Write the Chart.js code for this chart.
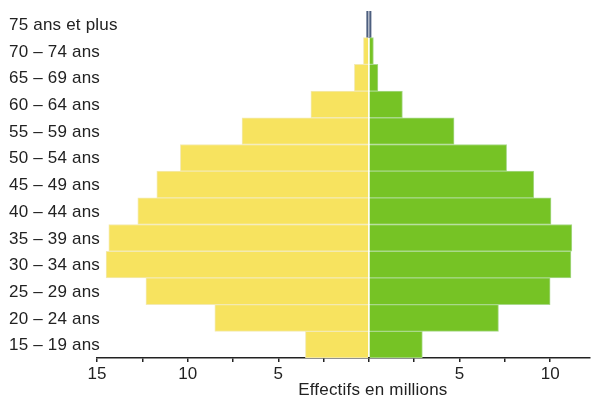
<!DOCTYPE html>
<html>
<head>
<meta charset="utf-8">
<script src="https://cdn.jsdelivr.net/npm/chart.js@4/dist/chart.umd.min.js"></script>
<style>
  html, body { margin: 0; padding: 0; background: #fff; }
  #wrap { width: 591px; height: 400px; }
</style>
</head>
<body>
<div id="wrap"><canvas id="pyramide"></canvas></div>
<script>
const labels = [
  '75 ans et plus', '70 – 74 ans', '65 – 69 ans', '60 – 64 ans', '55 – 59 ans',
  '50 – 54 ans', '45 – 49 ans', '40 – 44 ans', '35 – 39 ans', '30 – 34 ans',
  '25 – 29 ans', '20 – 24 ans', '15 – 19 ans'
];
// effectifs en millions
const gauche = [0.12, 0.3, 0.8, 3.2, 7.0, 10.4, 11.7, 12.75, 14.35, 14.5, 12.3, 8.5, 3.5];
const droite = [0.12, 0.25, 0.5, 1.85, 4.7, 7.6, 9.1, 10.05, 11.2, 11.15, 10.0, 7.15, 2.95];
const xTicks = [15, 10, 5, 0, 5, 10];

const FONT = 'Liberation Sans, Arial, sans-serif';
const jaune = '#f7e35f', jauneBord = '#f3eab2';
const vert = '#76c325', vertBord = '#a9d98a';
const bleu = '#4d5f7f';

// libellés des âges (dessinés à la main pour ne pas être rognés par l'axe)
// et titre de l'axe, centré sur le zéro comme dans l'original
const textes = {
  id: 'textes',
  afterDraw(chart) {
    const { ctx, scales: { x, y } } = chart;
    ctx.save();
    ctx.font = '17px ' + FONT;
    ctx.letterSpacing = '0.2px';
    ctx.fillStyle = '#222';
    ctx.textBaseline = 'middle';
    ctx.textAlign = 'left';
    labels.forEach((l, i) => {
      ctx.fillText(l, 9, y.getPixelForValue(i) + 1);
    });
    ctx.textAlign = 'center';
    ctx.fillText('Effectifs en millions', x.getPixelForValue(0) + 4, 390);
    ctx.restore();
  }
};

new Chart(document.getElementById('pyramide').getContext('2d'), {
  type: 'bar',
  data: {
    labels: labels,
    datasets: [
      {
        data: gauche.map(v => -v),
        backgroundColor: (c) => c.dataIndex === 0 ? bleu : jaune,
        borderColor: jauneBord,
        borderWidth: (c) => c.dataIndex === 0 ? 0 : 1,
        barPercentage: 1,
        categoryPercentage: 1
      },
      {
        data: droite,
        backgroundColor: (c) => c.dataIndex === 0 ? bleu : vert,
        borderColor: vertBord,
        borderWidth: (c) => c.dataIndex === 0 ? 0 : 1,
        barPercentage: 1,
        categoryPercentage: 1
      }
    ]
  },
  options: {
    indexAxis: 'y',
    responsive: true,
    maintainAspectRatio: false,
    animation: false,
    layout: { padding: { left: 9, right: 1, top: 11, bottom: 0 } },
    scales: {
      y: {
        stacked: true,
        afterFit: (scale) => { scale.width = 88; },
        grid: { display: false },
        border: { display: false },
        ticks: { display: false }
      },
      x: {
        stacked: true,
        min: -15,
        max: 12.2,
        afterFit: (scale) => { scale.height = 42; },
        afterBuildTicks: (scale) => {
          const t = [];
          for (let v = -15; v <= 10; v += 2.5) t.push({ value: v });
          scale.ticks = t;
        },
        grid: {
          drawOnChartArea: false,
          tickLength: 4,
          color: '#222',
          lineWidth: 1.5
        },
        border: { color: '#222', width: 1.5 },
        ticks: {
          padding: 2,
          maxRotation: 0,
          autoSkip: false,
          color: '#222',
          font: { family: FONT, size: 17 },
          callback: (v) => {
            const a = Math.abs(v);
            return xTicks.includes(a) && a % 5 === 0 && a !== 0 ? String(a) : '';
          }
        }
      }
    },
    plugins: {
      legend: { display: false },
      tooltip: { enabled: false }
    }
  },
  plugins: [textes]
});
</script>
</body>
</html>
